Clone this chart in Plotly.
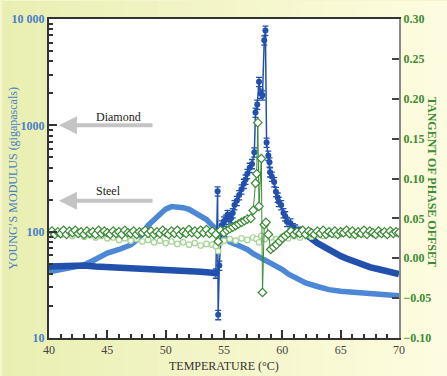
import plotly.graph_objects as go

# ---------------- data ----------------
# Young's modulus, run A (dark blue): before transition
temp_a_low = [40, 41, 42, 43, 44, 45, 46, 47, 48, 49, 50, 51, 52, 53, 54, 54.3]
mod_a_low = [47, 47.5, 48, 48, 47, 46.5, 46, 46, 45.5, 45, 44.5, 44, 43, 42, 41, 40.5]

# run A through the transition (markers with error bars)
temp_a_tr = [54.3, 54.45, 54.5, 54.6, 54.8, 55.0, 55.15, 55.3, 55.45, 55.6, 55.75, 55.9,
             56.1, 56.3, 56.5, 56.7, 56.85, 57.0, 57.2, 57.4, 57.6, 57.7, 57.85, 58.0,
             58.15, 58.3, 58.45, 58.55, 58.65, 58.8, 58.9, 58.95, 59.1, 59.3, 59.45,
             59.6, 59.7, 59.9, 60.1, 60.25, 60.4, 60.7, 60.9, 61.1, 61.4]
mod_a_tr = [40.5, 240, 16.5, 48, 115, 125, 130, 144, 138, 134, 150, 178,
            195, 221, 250, 283, 310, 351, 400, 434, 557, 1318, 1567, 2570,
            1990, 1920, 6300, 7800, 690, 519, 450, 363, 330, 293, 237,
            210, 191, 178, 150, 140, 124, 120, 108, 105, 100]

# run A after transition
temp_a_high = [61.4, 62, 62.5, 63, 63.5, 64, 64.5, 65, 65.5, 66, 66.5, 67, 67.5, 68,
               68.5, 69, 69.5, 70]
mod_a_high = [104, 95, 86, 78, 72, 67, 63, 59, 56, 53, 50.5, 48.5, 46.5, 45,
              43.5, 42, 41, 40]

# Young's modulus, run B (light blue)
temp_b = [40, 41, 42, 43, 44, 45, 46, 47, 47.5, 48, 48.5, 49, 49.5, 50, 50.5, 51, 51.5,
          52, 52.5, 53, 53.5, 54, 54.5, 55, 55.5, 56, 56.5, 57, 57.5, 58, 58.5, 59,
          59.5, 60, 60.5, 61, 61.5, 62, 63, 64, 65, 66, 67, 68, 69, 70]
mod_b = [42, 44, 46, 48.5, 55, 63, 68, 75, 83, 95, 115, 128, 148, 163, 172, 172, 168,
         162, 152, 143, 130, 114, 100, 88, 80, 76, 73, 68, 62, 58, 55, 50,
         47, 44, 40, 37.5, 35, 33, 30.5, 28.5, 27.5, 27, 26.5, 26, 25.5, 25]

# Tangent of phase offset (open diamonds, dark green)
temp_tan_d = [40, 40.25, 40.5, 40.75, 41, 41.25, 41.5, 41.75, 42, 42.25,
              42.5, 42.75, 43, 43.25, 43.5, 43.75, 44, 44.25, 44.5, 44.75,
              45, 45.25, 45.5, 45.75, 46, 46.25, 46.5, 46.75, 47, 47.25,
              47.5, 47.75, 48, 48.25, 48.5, 48.75, 49, 49.25, 49.5, 49.75,
              50, 50.25, 50.5, 50.75, 51, 51.25, 51.5, 51.75, 52, 52.25,
              52.5, 52.75, 53, 53.25, 53.5, 53.75, 54,
              54.3, 54.5, 54.7, 55, 55.25, 55.5, 55.75, 56, 56.25, 56.5,
              56.75, 57, 57.3, 57.5, 57.7, 57.8, 57.9, 58.0, 58.2, 58.3,
              58.45, 58.6, 58.8, 59, 59.25, 59.5, 59.75, 60, 60.25,
              60.5, 60.75, 61, 61.25, 61.5, 61.75, 62, 62.25, 62.5, 62.75,
              63, 63.25, 63.5, 63.75, 64, 64.25, 64.5, 64.75, 65, 65.25,
              65.5, 65.75, 66, 66.25, 66.5, 66.75, 67, 67.25, 67.5, 67.75,
              68, 68.25, 68.5, 68.75, 69, 69.25, 69.5, 69.75, 70]
tan_d = [0.031, 0.034, 0.030, 0.033, 0.031, 0.035, 0.030, 0.034, 0.032, 0.035,
         0.031, 0.033, 0.030, 0.034, 0.031, 0.033, 0.030, 0.035, 0.031, 0.034,
         0.032, 0.030, 0.034, 0.031, 0.033, 0.030, 0.035, 0.032, 0.031, 0.034,
         0.030, 0.033, 0.032, 0.035, 0.031, 0.034, 0.030, 0.033, 0.031, 0.035,
         0.032, 0.030, 0.034, 0.031, 0.035, 0.030, 0.033, 0.031, 0.036, 0.032,
         0.034, 0.030, 0.035, 0.032, 0.036, 0.031, 0.034,
         0.030, 0.021, 0.035, 0.032, 0.035, 0.037, 0.039, 0.041, 0.043, 0.045,
         0.047, 0.049, 0.050, 0.060, 0.094, 0.106, 0.170, 0.065, 0.125, -0.043,
         0.042, 0.045, 0.030, 0.011, 0.014, 0.017, 0.021, 0.025, 0.028,
         0.031, 0.034, 0.030, 0.033, 0.031, 0.035, 0.030, 0.034, 0.032, 0.030,
         0.034, 0.031, 0.035, 0.030, 0.033, 0.031, 0.034, 0.030, 0.033, 0.032,
         0.035, 0.031, 0.034, 0.030, 0.033, 0.031, 0.035, 0.030, 0.034, 0.032,
         0.030, 0.034, 0.031, 0.033, 0.030, 0.034, 0.031, 0.033, 0.032]

# Tangent of phase offset (open circles, light green)
temp_tan_c = [40, 40.5, 41, 41.5, 42, 42.5, 43, 43.5, 44, 44.5, 45, 45.5, 46, 46.5, 47,
              47.5, 48, 48.5, 49, 49.5, 50, 50.5, 51, 51.5, 52, 52.5, 53, 53.5, 54,
              54.3, 54.5, 54.7, 55, 55.5, 56, 56.5, 57, 57.5, 57.8, 58.0, 58.2, 58.5,
              59, 59.5, 60, 60.5, 61, 61.5, 62, 62.5, 63, 63.5, 64, 64.5, 65, 65.5,
              66, 66.5, 67, 67.5, 68, 68.5, 69, 69.5, 70]
tan_c = [0.030, 0.032, 0.029, 0.031, 0.028, 0.030, 0.027, 0.029, 0.026, 0.028, 0.025,
         0.026, 0.023, 0.025, 0.022, 0.024, 0.021, 0.023, 0.020, 0.022, 0.019,
         0.021, 0.018, 0.020, 0.017, 0.019, 0.016, 0.018, 0.017,
         0.015, 0.009, 0.020, 0.022, 0.024, 0.022, 0.025, 0.023, 0.026, 0.024, 0.020,
         0.028, 0.024, 0.026, 0.024, 0.027, 0.025, 0.028, 0.026, 0.029, 0.027, 0.030,
         0.028, 0.031, 0.029, 0.030, 0.032, 0.029, 0.031, 0.030, 0.032, 0.029, 0.031,
         0.030, 0.032, 0.030]

x_ticks = [40, 45, 50, 55, 60, 65, 70]
y_ticks = [10, 100, 1000, 10000]
y_ticktext = ["10", "100", "1000", "10 000"]
y2_ticks = [-0.10, -0.05, 0.00, 0.05, 0.10, 0.15, 0.20, 0.25, 0.30]
y2_ticktext = ["\u22120.10", "\u22120.05", "0.00", "0.05", "0.10", "0.15", "0.20", "0.25", "0.30"]

# ---------------- styles ----------------
DARK_BLUE = "#2150ad"
LIGHT_BLUE = "#4c88d6"
DARK_GREEN = "#3a8a35"
LIGHT_GREEN = "#a6d497"
AXIS_BLUE = "#4a7fc6"
AXIS_GREEN = "#3d8c33"
SERIF = "Liberation Serif, DejaVu Serif, serif"

W, H = 447, 376
L, R, T, B = 47, 48, 15, 38

fig = go.Figure()

fig.add_trace(go.Scatter(x=temp_b, y=mod_b, mode="lines",
                         line=dict(color=LIGHT_BLUE, width=5.5), hoverinfo="skip"))
fig.add_trace(go.Scatter(x=temp_a_low, y=mod_a_low, mode="lines",
                         line=dict(color=DARK_BLUE, width=6.5), hoverinfo="skip"))
fig.add_trace(go.Scatter(x=temp_a_high, y=mod_a_high, mode="lines",
                         line=dict(color=DARK_BLUE, width=6.5), hoverinfo="skip"))
fig.add_trace(go.Scatter(x=temp_tan_c, y=tan_c, yaxis="y2", mode="lines+markers",
                         line=dict(color=LIGHT_GREEN, width=0.8),
                         marker=dict(symbol="circle", size=5.5, color="white",
                                     line=dict(color=LIGHT_GREEN, width=1.2)),
                         hoverinfo="skip"))
fig.add_trace(go.Scatter(x=temp_a_tr, y=mod_a_tr, mode="lines+markers",
                         line=dict(color=DARK_BLUE, width=1.5),
                         marker=dict(symbol="circle", size=6, color=DARK_BLUE),
                         error_y=dict(type="percent", value=10, color=DARK_BLUE,
                                      thickness=1.3, width=3),
                         hoverinfo="skip"))
fig.add_trace(go.Scatter(x=temp_tan_d, y=tan_d, yaxis="y2", mode="lines+markers",
                         line=dict(color=DARK_GREEN, width=1),
                         marker=dict(symbol="diamond", size=6.5, color="white",
                                     line=dict(color=DARK_GREEN, width=1.2)),
                         hoverinfo="skip"))

# background gradient strips (paper coordinates)
shapes = []
pw, ph = W - L - R, H - T - B
n = 40
c0 = (233, 239, 178)
c1 = (254, 252, 224)
for i in range(n):
    f = i / (n - 1)
    col = tuple(round(c0[k] + (c1[k] - c0[k]) * f) for k in range(3))
    x0p = (i * W / n - L) / pw
    x1p = ((i + 1) * W / n - L + 1) / pw
    shapes.append(dict(type="rect", xref="paper", yref="paper", x0=x0p, x1=x1p,
                       y0=-B / ph - 0.01, y1=1 + T / ph + 0.01, line=dict(width=0),
                       fillcolor="rgb(%d,%d,%d)" % col, layer="below"))
shapes.append(dict(type="rect", xref="paper", yref="paper", x0=0, x1=1, y0=0, y1=1,
                   line=dict(width=0), fillcolor="white", layer="below"))

minor_y = [m * 10 ** e for e in (1, 2, 3) for m in range(2, 10)]

annotations = [
    dict(x=40.85, y=3.0, ax=49.0, ay=3.0, xref="x", yref="y", axref="x", ayref="y",
         showarrow=True, arrowhead=2, arrowsize=0.9, arrowwidth=4, arrowcolor="#c4c4c4",
         text=""),
    dict(x=40.85, y=2.291, ax=49.0, ay=2.291, xref="x", yref="y", axref="x", ayref="y",
         showarrow=True, arrowhead=2, arrowsize=0.9, arrowwidth=4, arrowcolor="#c4c4c4",
         text=""),
    dict(x=45.97, y=3.08, xref="x", yref="y", text="Diamond", showarrow=False,
         font=dict(family=SERIF, size=12, color="#222")),
    dict(x=45.1, y=2.384, xref="x", yref="y", text="Steel", showarrow=False,
         font=dict(family=SERIF, size=12, color="#222")),
    dict(x=(10 - L) / pw, y=0.5, xref="paper", yref="paper", textangle=-90,
         xanchor="center", yanchor="middle",
         text="YOUNG\u2019S MODULUS (gigapascals)", showarrow=False,
         font=dict(family=SERIF, size=12, color=AXIS_BLUE)),
    dict(x=(432 - L) / pw, y=0.49, xref="paper", yref="paper", textangle=90,
         xanchor="center", yanchor="middle",
         text="<b>TANGENT OF PHASE OFFSET</b>", showarrow=False,
         font=dict(family=SERIF, size=12, color=AXIS_GREEN)),
    dict(x=0.5, y=(338 - 366) / ph, xref="paper", yref="paper",
         xanchor="center", yanchor="middle",
         text="TEMPERATURE (\u00b0C)", showarrow=False,
         font=dict(family=SERIF, size=12, color="#333")),
]

fig.update_layout(
    width=W, height=H, margin=dict(l=L, r=R, t=T, b=B, pad=0),
    paper_bgcolor="rgb(245,246,205)", plot_bgcolor="white",
    showlegend=False, shapes=shapes, annotations=annotations,
    xaxis=dict(range=[40, 70], tickmode="array", tickvals=x_ticks,
               showline=True, linecolor="#333", linewidth=2, mirror=True,
               ticks="inside", ticklen=8, tickwidth=1.5, tickcolor="#333",
               minor=dict(dtick=1, tick0=40, ticks="inside", ticklen=4, tickcolor="#333",
                          showgrid=False),
               showgrid=False, zeroline=False,
               tickfont=dict(family=SERIF, size=12, color="#444")),
    yaxis=dict(type="log", range=[1, 4], tickmode="array", tickvals=y_ticks,
               ticktext=y_ticktext, showline=True, linecolor="#333", linewidth=2,
               ticks="inside", ticklen=8, tickwidth=1.5, tickcolor="#333",
               minor=dict(tickmode="array", tickvals=minor_y, ticks="inside", ticklen=4,
                          tickcolor="#333", showgrid=False),
               showgrid=False, zeroline=False,
               tickfont=dict(family=SERIF, size=12, color=AXIS_BLUE, weight="bold")),
    yaxis2=dict(range=[-0.10, 0.30], overlaying="y", side="right", tickmode="array",
                tickvals=y2_ticks, ticktext=y2_ticktext, showline=True,
                linecolor="#8a8a8a", linewidth=2, ticks="inside", ticklen=7,
                tickwidth=1.5, tickcolor="#444", showgrid=False, zeroline=False,
                tickfont=dict(family=SERIF, size=12, color=AXIS_GREEN, weight="bold")),
)

fig.write_html("out.html", config={"displayModeBar": False},
               post_script="document.body.style.margin='0';")
